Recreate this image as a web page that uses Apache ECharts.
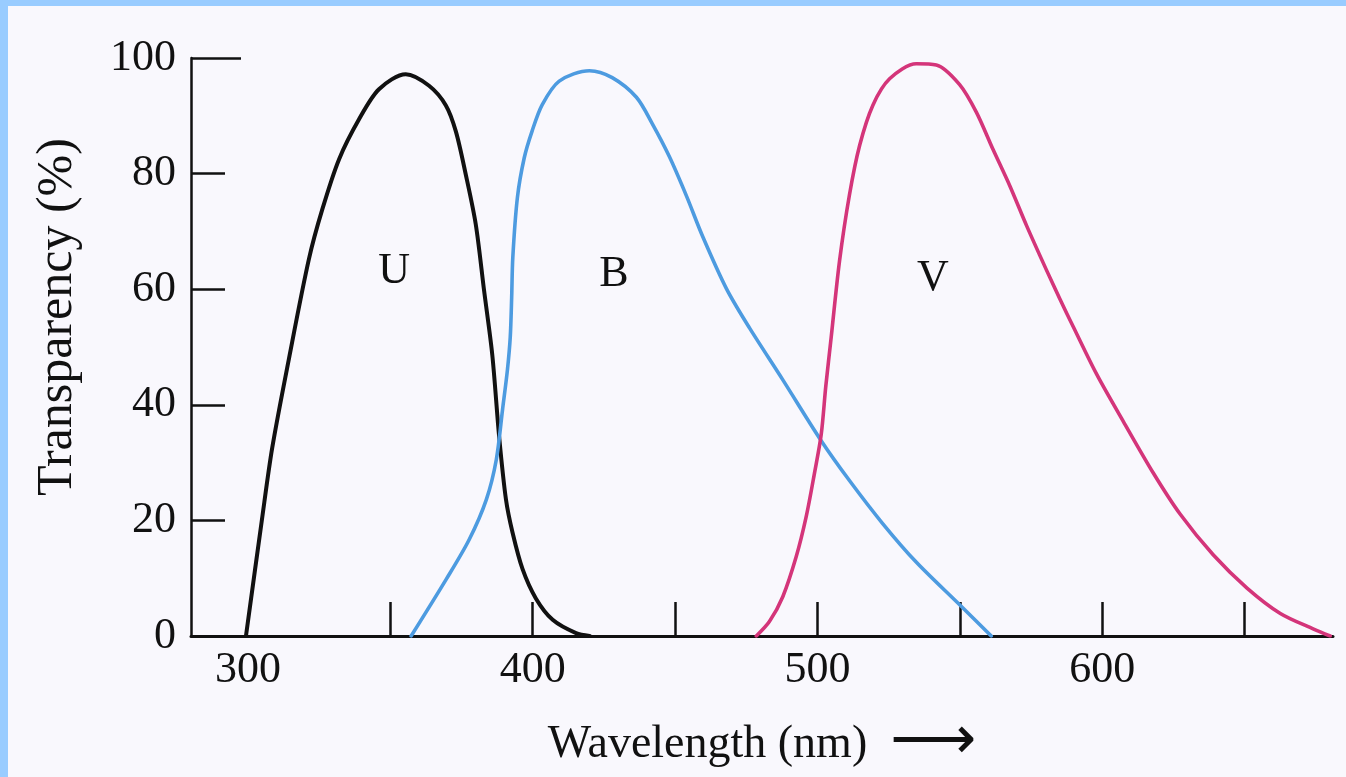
<!DOCTYPE html>
<html>
<head>
<meta charset="utf-8">
<script src="https://cdn.jsdelivr.net/npm/echarts@6/dist/echarts.min.js"></script>
<style>
html, body { margin: 0; padding: 0; background: #f9f8fd; }
#chart {
  position: absolute; left: 0; top: 0;
  width: 1338px; height: 771px;
  border-left: 8px solid #99ccff;
  border-top: 6px solid #99ccff;
  background: #f9f8fd;
}
</style>
</head>
<body>
<div id="chart"></div>
<script>
// ---- data (wavelength nm, transparency %) ----
const uData = [[299.3,0],[304.9,20.1],[308.5,32.5],[314.4,48],[321.4,65.2],[326.1,73.8],[332,82.5],[339,89.4],[346,94.6],[355.4,97.2],[363.6,95.2],[369.5,91.8],[373,87.3],[376.5,79.8],[380,71.2],[382.9,59.8],[385.8,48.6],[388.2,34.5],[390.6,23.6],[392.9,17.9],[396.4,11.6],[401.1,6.5],[407,2.8],[415.2,0.5],[420,0]];
const bData = [[357.3,0],[369.6,9.8],[377.7,16.7],[383.7,23.6],[387.2,30.5],[389.4,39.2],[391.1,46],[392.1,51.7],[392.6,58.6],[393,65.5],[394.6,75.8],[397,82.7],[399.8,87.4],[403.3,91.9],[409.3,96],[419.9,97.8],[427.9,96.6],[436.4,93.2],[442,88.6],[448,82.9],[454,76.1],[459.6,69.2],[468,60.1],[476.1,53.3],[487.7,44.4],[501.4,33.7],[511.2,26.9],[522.8,19.5],[534.8,12.7],[549.9,5.4],[561,0]];
const vData = [[478.5,0],[483.1,2.5],[487.8,6.8],[492.5,13.7],[496,20.6],[498.9,28.1],[501.3,34.9],[502.9,43.2],[504.8,51.7],[507.7,64.8],[511.2,76.3],[514.8,84.9],[519.4,91.8],[525.3,96.4],[534.7,99],[541.7,98.8],[549.9,95.4],[555.8,90.6],[561.6,84.2],[567.5,77.9],[573.4,71],[580.4,63.3],[585.1,58.3],[589.8,53.5],[598,45.3],[607.4,37.1],[617.9,28.2],[627.3,21.1],[639,14],[650.8,8.3],[662.5,3.9],[674.2,1.2],[680,0]];
const curveNames = ['U', 'B', 'V'];
const curveLabelPos = [[351.3, 63.1], [428.5, 62.6], [540.5, 61.9]];
const xTickValues = [350, 400, 450, 500, 550, 600, 650];
const xLabelValues = [300, 400, 500, 600];
const yLabelValues = [0, 20, 40, 60, 80, 100];
const xTitle = 'Wavelength (nm)';
const yTitle = 'Transparency (%)';

const serif = 'Liberation Serif';
const ink = '#111111';
const paper = '#f9f8fd';

const chart = echarts.init(document.getElementById('chart'), null, { renderer: 'canvas' });

const lineSeries = (name, data, color, width) => ({
  name, type: 'line', data,
  showSymbol: false, symbol: 'none',
  smooth: 0.3,
  lineStyle: { color, width, cap: 'round', join: 'round' },
  z: 3
});

chart.setOption({
  animation: false,
  backgroundColor: 'transparent',
  grid: { left: 183, right: 13, top: 52, bottom: 136, containLabel: false },
  xAxis: {
    type: 'value', min: 280, max: 681,
    name: xTitle + '  {arr|⟶}',
    nameLocation: 'middle', nameGap: 76,
    nameTextStyle: {
      fontFamily: serif, fontSize: 46, color: ink,
      rich: { arr: { fontFamily: 'DejaVu Sans', fontSize: 60, color: ink, padding: [0, 0, 6, 0] } }
    },
    axisLine: { show: true, onZero: false, lineStyle: { color: ink, width: 3 } },
    axisTick: { show: true, inside: true, length: 34, customValues: xTickValues, lineStyle: { color: ink, width: 2.5 } },
    axisLabel: { show: true, customValues: xLabelValues, margin: 12, fontFamily: serif, fontSize: 44, color: ink },
    splitLine: { show: false }
  },
  yAxis: [{
    type: 'value', min: 0, max: 100, interval: 20,
    name: yTitle,
    nameLocation: 'middle', nameGap: 108, nameRotate: 90,
    nameTextStyle: { fontFamily: serif, fontSize: 50, color: ink, padding: [0, 0, 0, 60] },
    axisLine: { show: true, lineStyle: { color: ink, width: 2.5 } },
    axisTick: { show: true, inside: true, length: 34, lineStyle: { color: ink, width: 2.5 } },
    axisLabel: { show: true, margin: 15, fontFamily: serif, fontSize: 44, color: ink,
      customValues: yLabelValues },
    splitLine: { show: false }
  }, {
    type: 'value', min: 0, max: 100, position: 'left',
    axisLine: { show: false },
    axisTick: { show: true, inside: true, length: 50, customValues: [100], lineStyle: { color: ink, width: 2.5 } },
    axisLabel: { show: false },
    splitLine: { show: false }
  }],
  series: [
    lineSeries('U', uData, '#111111', 4),
    lineSeries('B', bData, '#4d9be0', 3.6),
    lineSeries('V', vData, '#d4357a', 3.6),
    {
      type: 'scatter', name: 'labels',
      data: curveLabelPos.map((p, i) => ({ value: p, name: curveNames[i] })),
      symbolSize: 1, itemStyle: { color: paper, opacity: 1 },
      label: { show: true, position: 'inside', formatter: '{b}', fontFamily: serif, fontSize: 44,
        color: ink, opacity: 1, textBorderWidth: 0 },
      z: 4
    }
  ]
});
</script>
</body>
</html>
